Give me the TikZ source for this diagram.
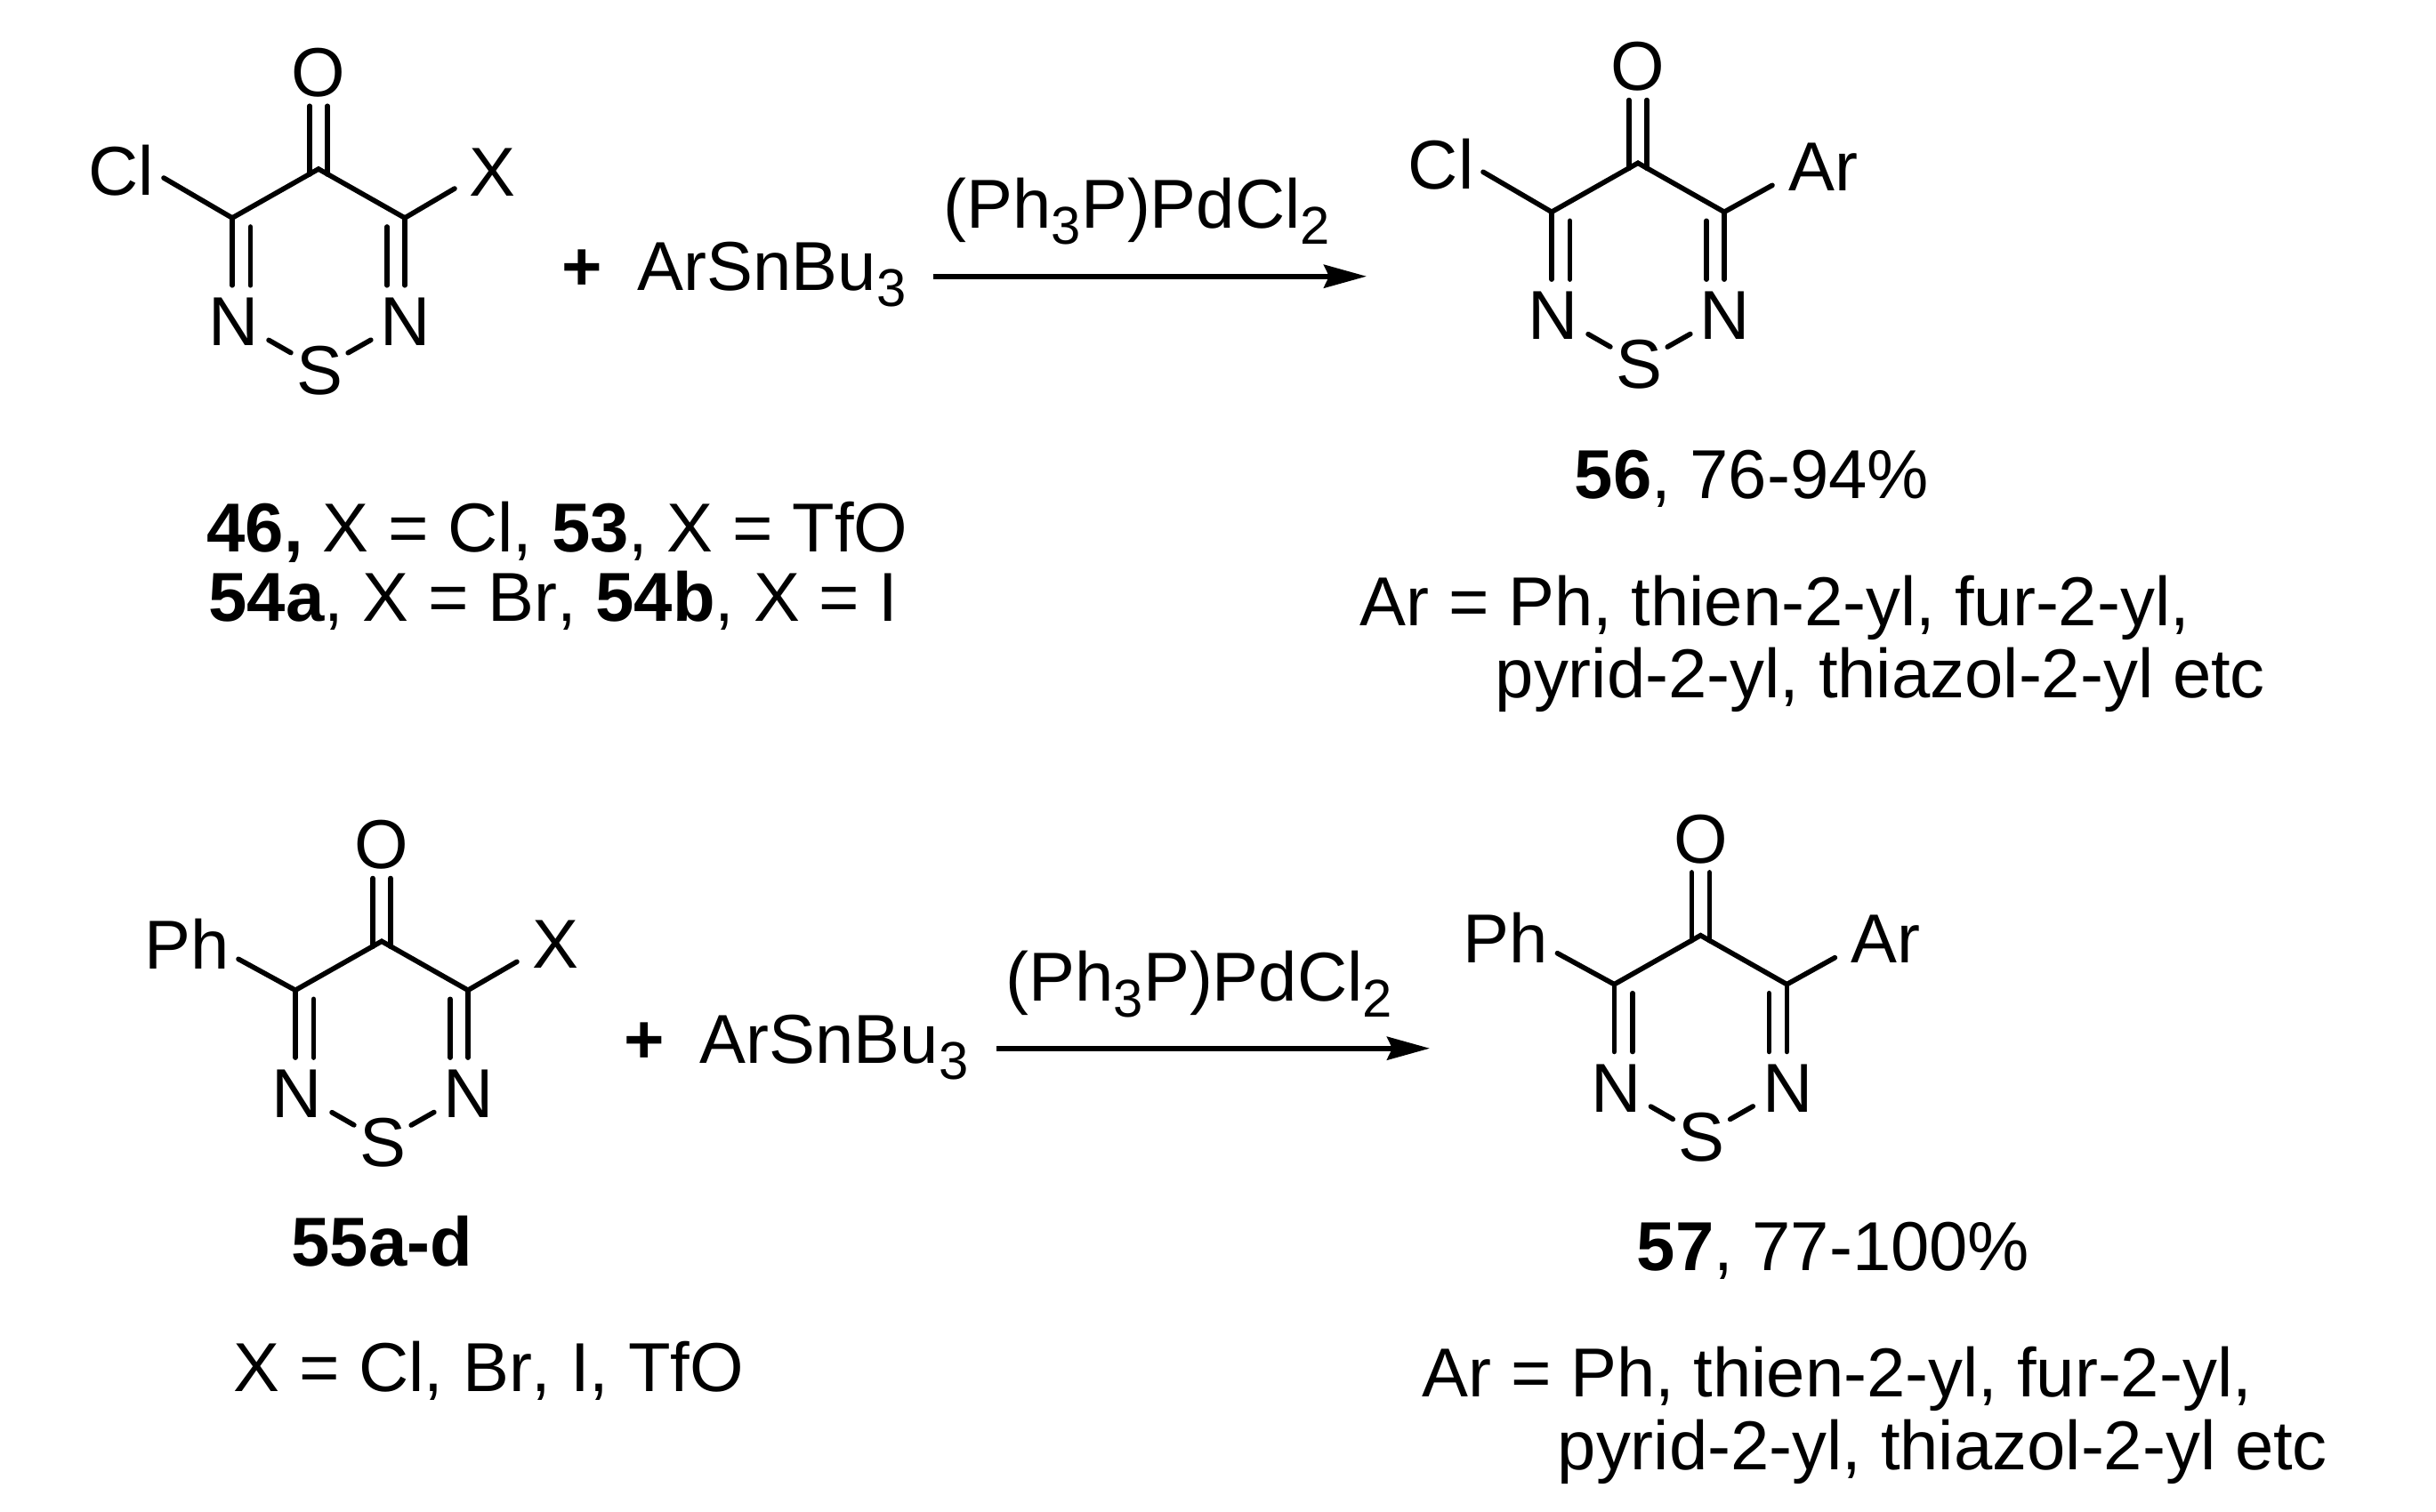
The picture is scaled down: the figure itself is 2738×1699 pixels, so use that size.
\documentclass[tikz,border=0pt]{standalone}
\usepackage{fontspec}
\setmainfont[Kerning=Off]{Liberation Sans}
\usepackage{tikz}
\usetikzlibrary{arrows.meta, positioning, calc}
\newcommand{\subsc}[1]{\raisebox{-.18cm}{\fontsize{17}{17}\selectfont #1}}
\newcommand{\ringcore}[2]{%
  \begin{scope}[shift={(#2)}]
    \coordinate (#1c) at (0,0);
    \coordinate (#1l) at (-97,55);
    \coordinate (#1r) at (97,55);
    \coordinate (#1ol) at (-10,6);
    \coordinate (#1or) at (10,6);
    \coordinate (#1il) at (-76.5,65);
    \coordinate (#1ir) at (77,65);
    \node[atom] (#1o) at (0,-110) {O};
    \node[atom] (#1nl) at (-95,170) {N};
    \node[atom] (#1nr) at (98,170) {N};
    \node[atom] (#1s) at (1,225) {S};
    \draw[bond] (#1l) -- (#1c) -- (#1r);
    \draw[bond] (#1ol) -- (#1ol |- #1o.south);
    \draw[bond] (#1or) -- (#1or |- #1o.south);
    \draw[bond] (#1l) -- (#1l |- #1nl.north);
    \draw[bond] (#1il) -- (#1il |- #1nl.north);
    \draw[bond] (#1r) -- (#1r |- #1nr.north);
    \draw[bond] (#1ir) -- (#1ir |- #1nr.north);
    \draw[bond, shorten <=.45cm, shorten >=.37cm] (#1nl.center) -- (#1s.center);
    \draw[bond, shorten <=.45cm, shorten >=.37cm] (#1nr.center) -- (#1s.center);
  \end{scope}}

\begin{document}
\begin{tikzpicture}[
      x=.01cm, y=-.01cm,
      every node/.style={font=\fontsize{22.14}{26}\selectfont},
      atom/.style={inner sep=.1cm, text height=.57cm, text depth=0pt},
      txt/.style={inner sep=0pt, anchor=base west},
      bond/.style={line width=1.6pt, line cap=round},
      rxn/.style={line width=1.6pt, -{Stealth[length=.48cm, width=.26cm, inset=.06cm]}}
    ]
      \useasboundingbox (0,0) rectangle (2738,1699);

      \ringcore{a}{358,190}
      \node[atom] (acl) at (136,191) {Cl};
      \node[atom] (ax) at (553.6,191.5) {X};
      \coordinate (aclend) at (184,200);
      \coordinate (axend) at (511,212);
      \draw[bond] (al) -- (aclend);
      \draw[bond] (ar) -- (axend);

      \ringcore{b}{1841,183.3}
      \node[atom] (bcl) at (1619.6,184.3) {Cl};
      \node[atom] (bar) at (2049,185.8) {Ar};
      \coordinate (bclend) at (1667,193.3);
      \coordinate (barend) at (1992,208.3);
      \draw[bond] (bl) -- (bclend);
      \draw[bond] (br) -- (barend);

      \ringcore{c}{429,1058.3}
      \node[atom] (cph) at (210,1060.8) {Ph};
      \node[atom] (cx) at (624.6,1059.8) {X};
      \coordinate (cphend) at (268,1078.3);
      \coordinate (cxend) at (581,1081.3);
      \draw[bond] (cl) -- (cphend);
      \draw[bond] (cr) -- (cxend);

      \ringcore{d}{1911.4,1051.7}
      \node[atom] (dph) at (1692.4,1054.2) {Ph};
      \node[atom] (dar) at (2119.4,1054.2) {Ar};
      \coordinate (dphend) at (1750.4,1071.7);
      \coordinate (darend) at (2062.4,1076.7);
      \draw[bond] (dl) -- (dphend);
      \draw[bond] (dr) -- (darend);

      \node[txt] (aplus) at (631,326) {\textbf{+}};
      \node[txt] (areag) at (716,326) {ArSnBu\subsc{3}};
      \node[txt] (acat) at (1060,256.7) {(Ph\subsc{3}P)PdCl\subsc{2}};
      \coordinate (aarrl) at (1049,310.7);
      \coordinate (aarrr) at (1536,310.7);
      \draw[rxn] (aarrl) -- (aarrr);

      \node[txt] (cplus) at (701,1195) {\textbf{+}};
      \node[txt] (creag) at (786,1195) {ArSnBu\subsc{3}};
      \node[txt] (ccat) at (1130,1125.7) {(Ph\subsc{3}P)PdCl\subsc{2}};
      \coordinate (carrl) at (1120,1178.7);
      \coordinate (carrr) at (1607,1178.7);
      \draw[rxn] (carrl) -- (carrr);

      \node[txt] (alab) at (232,620) {\textbf{46,} X = Cl, \textbf{53}, X = TfO};
      \node[txt] (alabb) at (234,698) {\textbf{54a}, X = Br, \textbf{54b}, X = I};
      \node[txt] (blab) at (1769,560) {\textbf{56}, 76-94\%};
      \node[txt] (bara) at (1528,703) {Ar = Ph, thien-2-yl, fur-2-yl,};
      \node[txt] (barb) at (1680,784) {pyrid-2-yl, thiazol-2-yl etc};
      \node[txt] (clab) at (327,1423) {\textbf{55a-d}};
      \node[txt] (cxlab) at (262,1564) {X = Cl, Br, I, TfO};
      \node[txt] (dlab) at (1839,1428) {\textbf{57}, 77-100\%};
      \node[txt] (dara) at (1598,1570) {Ar = Ph, thien-2-yl, fur-2-yl,};
      \node[txt] (darb) at (1750,1652) {pyrid-2-yl, thiazol-2-yl etc};
    \end{tikzpicture}
\end{document}
